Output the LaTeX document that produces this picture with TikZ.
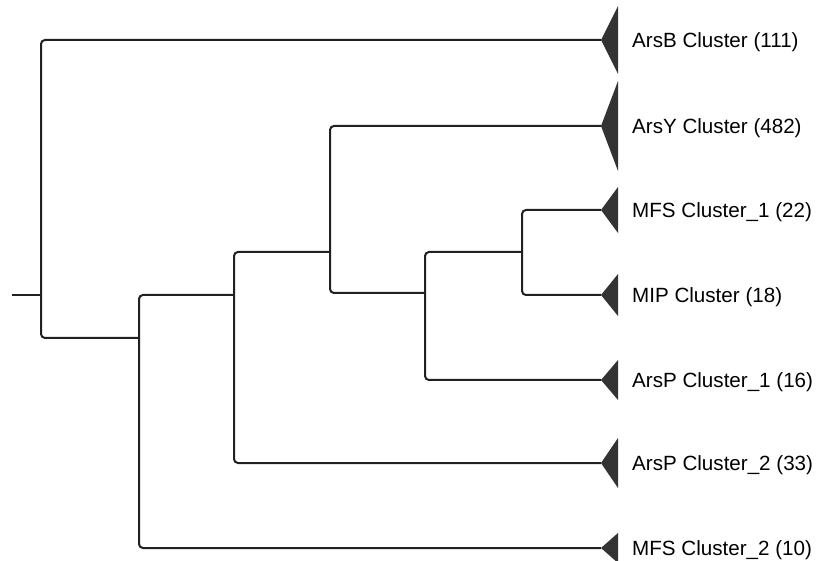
\documentclass[tikz,border=0pt]{standalone}
\usepackage{fontspec}
\setmainfont{Liberation Sans}
\definecolor{branchcol}{HTML}{202020}
\definecolor{tricol}{HTML}{333333}
\tikzset{
  branch/.style={draw=branchcol, line width=2pt, rounded corners=4pt},
  clade/.style={fill=tricol},
  lab/.style={anchor=base west, inner sep=0pt, font=\fontsize{20.6}{24}\selectfont, text=black}
}
\begin{document}
\begin{tikzpicture}[x=1pt,y=-1pt]
\useasboundingbox (0,0) rectangle (817,561);
% leaf tips
\coordinate (tB)  at (601,40);
\coordinate (tY)  at (601,126);
\coordinate (tM1) at (601,210);
\coordinate (tMI) at (601,295);
\coordinate (tP1) at (601,380);
\coordinate (tP2) at (601,463);
\coordinate (tM2) at (601,548);
% internal nodes (x, incoming y)
\coordinate (root) at (12,295);
\coordinate (n1) at (41,295);
\coordinate (n2) at (139,338);
\coordinate (n3) at (234,295);
\coordinate (n4) at (330,252);
\coordinate (n5) at (425,293);
\coordinate (n6) at (522,252);
% branches
\draw[branch] (root) -- (n1);
\draw[branch] (tB) -| (n1) |- (n2);
\draw[branch] (n3) -| (n2) |- (tM2);
\draw[branch] (n4) -| (n3) |- (tP2);
\draw[branch] (tY) -| (n4) |- (n5);
\draw[branch] (n6) -| (n5) |- (tP1);
\draw[branch] (tM1) -| (n6) |- (tMI);
% collapsed clade triangles
\fill[clade] (tB)  -- ++(17,-34) -- ++(0,68) -- cycle;
\fill[clade] (tY)  -- ++(17,-45) -- ++(0,90) -- cycle;
\fill[clade] (tM1) -- ++(17,-23) -- ++(0,46) -- cycle;
\fill[clade] (tMI) -- ++(17,-21) -- ++(0,42) -- cycle;
\fill[clade] (tP1) -- ++(17,-20) -- ++(0,40) -- cycle;
\fill[clade] (tP2) -- ++(17,-25) -- ++(0,50) -- cycle;
\fill[clade] (tM2) -- ++(17,-15) -- ++(0,30) -- cycle;
% labels
\node[lab] (lB)  at (632,47.4)  {ArsB Cluster (111)};
\node[lab] (lY)  at (632,133.4) {ArsY Cluster (482)};
\node[lab] (lM1) at (632,217.4) {MFS Cluster\_1 (22)};
\node[lab] (lMI) at (632,302.4) {MIP Cluster (18)};
\node[lab] (lP1) at (632,387.4) {ArsP Cluster\_1 (16)};
\node[lab] (lP2) at (632,470.4) {ArsP Cluster\_2 (33)};
\node[lab] (lM2) at (632,555.4) {MFS Cluster\_2 (10)};
\end{tikzpicture}
\end{document}
